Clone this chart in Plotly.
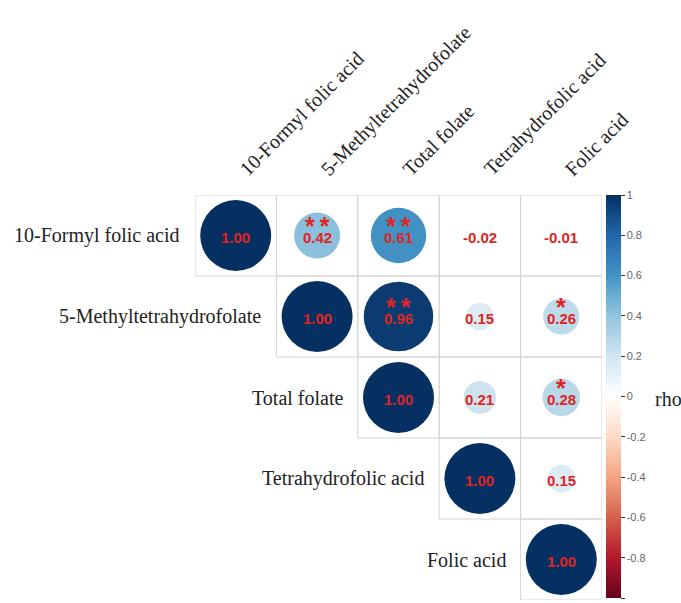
import numpy as np
import plotly.graph_objects as go

# Variables (same order on both axes)
labels = [
    "10-Formyl folic acid",
    "5-Methyltetrahydrofolate",
    "Total folate",
    "Tetrahydrofolic acid",
    "Folic acid",
]

# Spearman correlation matrix (upper triangle used)
rho = [
    [1.00, 0.42, 0.61, -0.02, -0.01],
    [0.42, 1.00, 0.96, 0.15, 0.26],
    [0.61, 0.96, 1.00, 0.21, 0.28],
    [-0.02, 0.15, 0.21, 1.00, 0.15],
    [-0.01, 0.26, 0.28, 0.15, 1.00],
]

# Significance marks (upper triangle)
sig = [
    ["", "**", "**", "", ""],
    ["", "", "**", "", "*"],
    ["", "", "", "", "*"],
    ["", "", "", "", ""],
    ["", "", "", "", ""],
]

# Colour bar ticks
cbar_ticks = [1, 0.8, 0.6, 0.4, 0.2, 0, -0.2, -0.4, -0.6, -0.8, -1]
cbar_ticktext = ["1", "0.8", "0.6", "0.4", "0.2", "0", "-0.2", "-0.4", "-0.6", "-0.8", "-1"]

# corrplot-style RdBu palette
rdbu_cols = ["#67001F", "#B2182B", "#D6604D", "#F4A582", "#FDDBC7", "#FFFFFF",
             "#D1E5F0", "#92C5DE", "#4393C3", "#2166AC", "#053061"]
colorscale = [[i / (len(rdbu_cols) - 1), c] for i, c in enumerate(rdbu_cols)]

n = len(labels)
xs, ys, vals = [], [], []
for i in range(n):
    for j in range(i, n):
        xs.append(j)
        ys.append(i)
        vals.append(rho[i][j])
vals = np.array(vals)

FULL_D = 71  # circle diameter (px) for |rho| = 1
sizes = FULL_D * np.sqrt(np.abs(vals))

TXT_RED = "#e02424"

fig = go.Figure()

# circles (area proportional to |rho|)
fig.add_trace(go.Scatter(
    x=xs, y=ys, mode="markers",
    marker=dict(
        size=sizes, sizemode="diameter", opacity=1,
        color=vals, colorscale=colorscale, cmin=-1, cmax=1,
        line=dict(width=0),
        showscale=True,
        colorbar=dict(
            x=(606 - 195) / 407, xanchor="left", xpad=0,
            y=1, yanchor="top", ypad=0,
            lenmode="pixels", len=403, thickness=15,
            outlinewidth=0,
            tickvals=cbar_ticks, ticktext=cbar_ticktext,
            ticks="outside", ticklen=4, tickcolor="#333", tickwidth=1,
            tickfont=dict(family="Liberation Sans, Arial", size=11, color="#666"),
        ),
    ),
    hoverinfo="skip", showlegend=False,
))

shapes = []
annotations = []

# cell borders, coefficients and significance marks for the upper triangle
for i in range(n):
    for j in range(i, n):
        shapes.append(dict(
            type="rect", xref="x", yref="y",
            x0=j - 0.5, x1=j + 0.5, y0=i - 0.5, y1=i + 0.5,
            line=dict(color="#d4d4d4", width=1), layer="below",
        ))
        annotations.append(dict(
            x=j, y=i, xref="x", yref="y", showarrow=False,
            text=f"{rho[i][j]:.2f}", yshift=-2,
            font=dict(family="Liberation Sans, Arial", size=15, color=TXT_RED, weight="bold"),
        ))
        s = sig[i][j]
        if s:
            annotations.append(dict(
                x=j, y=i, xref="x", yref="y", showarrow=False,
                text="\u2009".join(s),
                font=dict(family="Liberation Sans, Arial", size=25, color=TXT_RED, weight="bold"),
                yshift=10,
            ))

# row labels, left of the diagonal cell
for i, lab in enumerate(labels):
    annotations.append(dict(
        x=i - 0.5, y=i, xref="x", yref="y", showarrow=False,
        text=lab, xanchor="right", yanchor="middle", xshift=-13,
        font=dict(family="Liberation Serif, Times New Roman", size=20, color="#222"),
    ))

# column labels, rotated along the top
for j, lab in enumerate(labels):
    annotations.append(dict(
        x=j, y=1, xref="x", yref="paper", showarrow=False,
        text=lab, textangle=-45, xanchor="left", yanchor="bottom",
        xshift=-3, yshift=12,
        font=dict(family="Liberation Serif, Times New Roman", size=20, color="#222"),
    ))

# colour bar title
annotations.append(dict(
    x=(653 - 195) / 407, y=(600 - 399) / 405, xref="paper", yref="paper",
    showarrow=False, text="rho", xanchor="left", yanchor="middle",
    font=dict(family="Liberation Serif, Times New Roman", size=20, color="#222"),
))

fig.update_layout(
    width=681, height=603,
    margin=dict(l=195, r=79, t=195, b=3, pad=0),
    paper_bgcolor="white", plot_bgcolor="white",
    xaxis=dict(range=[-0.5, n - 0.5], visible=False, fixedrange=True),
    yaxis=dict(range=[n - 0.5, -0.5], visible=False, fixedrange=True),
    shapes=shapes, annotations=annotations,
)

fig.write_html("out.html")
